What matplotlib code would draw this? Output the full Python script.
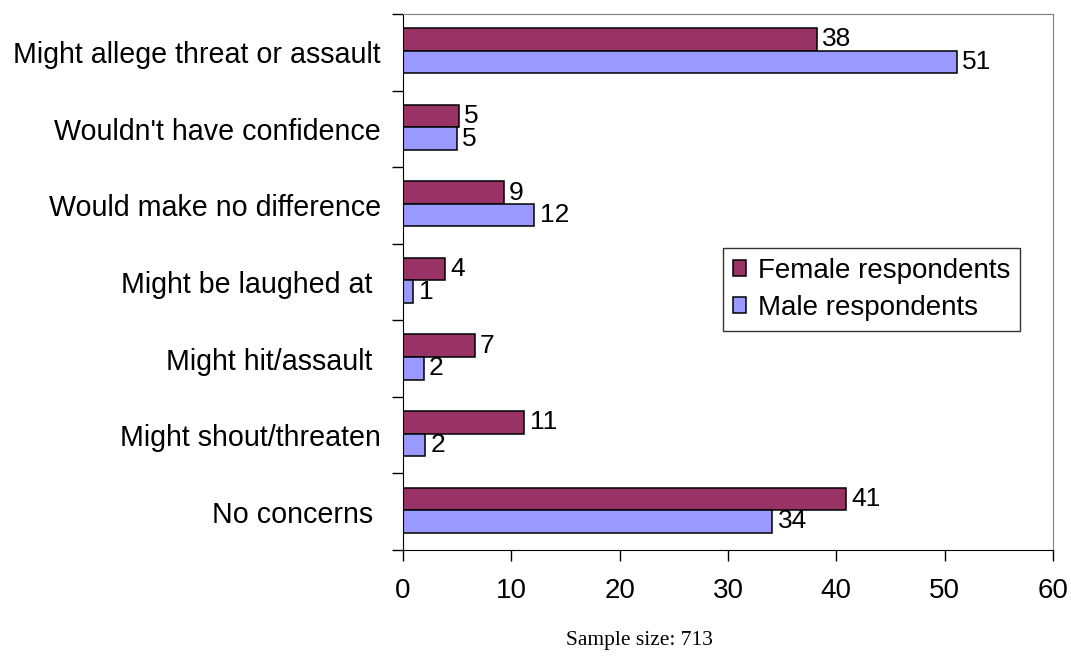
import numpy as np
import matplotlib.pyplot as plt

# categories, top to bottom as in the chart
categories = ["Might allege threat or assault", "Wouldn't have confidence",
              "Would make no difference", "Might be laughed at ",
              "Might hit/assault ", "Might shout/threaten", "No concerns "]
female = [38.2, 5.15, 9.3, 3.9, 6.6, 11.2, 40.9]
male = [51.1, 4.95, 12.1, 0.95, 1.9, 2.05, 34.1]
female_labels = ["38", "5", "9", "4", "7", "11", "41"]
male_labels = ["51", "5", "12", "1", "2", "2", "34"]

plt.rcParams['font.family'] = ['Liberation Sans', 'DejaVu Sans']
fs = 20

fig = plt.figure(figsize=(10.71, 6.57), dpi=100)
ax = fig.add_axes([0.3763, 0.1629, 0.6069, 0.8158])

n = len(categories)
centers = n - 0.5 - np.arange(n)   # top category at the top
h = 0.295
off = 0.02

ax.barh(centers + off + h/2, female, height=h, color='#993366',
        edgecolor='black', linewidth=1.1, label='Female respondents')
ax.barh(centers + off - h/2, male, height=h, color='#9999FF',
        edgecolor='black', linewidth=1.1, label='Male respondents')

# value labels next to bars
for y, v, t in zip(centers + off + h/2, female, female_labels):
    ax.text(v + 0.5, y, t, va='center', ha='left', fontsize=19)
for y, v, t in zip(centers + off - h/2, male, male_labels):
    ax.text(v + 0.5, y, t, va='center', ha='left', fontsize=19)

ax.set_xlim(0, 60)
ax.set_ylim(0, n)
ax.set_xticks(range(0, 61, 10))
ax.set_yticks(np.arange(0, n + 1))
ax.set_yticklabels([])
ax.set_yticks(centers, minor=True)
ax.set_yticklabels(categories, minor=True, fontsize=20.6)
ax.tick_params(axis='y', which='minor', length=0, pad=16)
ax.tick_params(axis='y', which='major', length=8, direction='out', width=1)
ax.tick_params(axis='x', length=8, direction='out', width=1, labelsize=fs, pad=12)

for s in ['top', 'right']:
    ax.spines[s].set_color('#808080')
for s in ['left', 'bottom']:
    ax.spines[s].set_color('black')

leg = ax.legend(loc='upper left', bbox_to_anchor=(0.492, 0.5634), fontsize=fs,
                frameon=True, fancybox=False, edgecolor='black', borderaxespad=0,
                handlelength=0.5, handleheight=0.5, handletextpad=0.4,
                borderpad=0.35, labelspacing=0.4)
leg.get_frame().set_linewidth(1)

fig.text(0.5975, 0.0244, "Sample size: 713", ha='center', va='center',
         fontsize=15.5, family=['Liberation Serif', 'DejaVu Serif'])

fig.savefig('out.png', dpi=100)
